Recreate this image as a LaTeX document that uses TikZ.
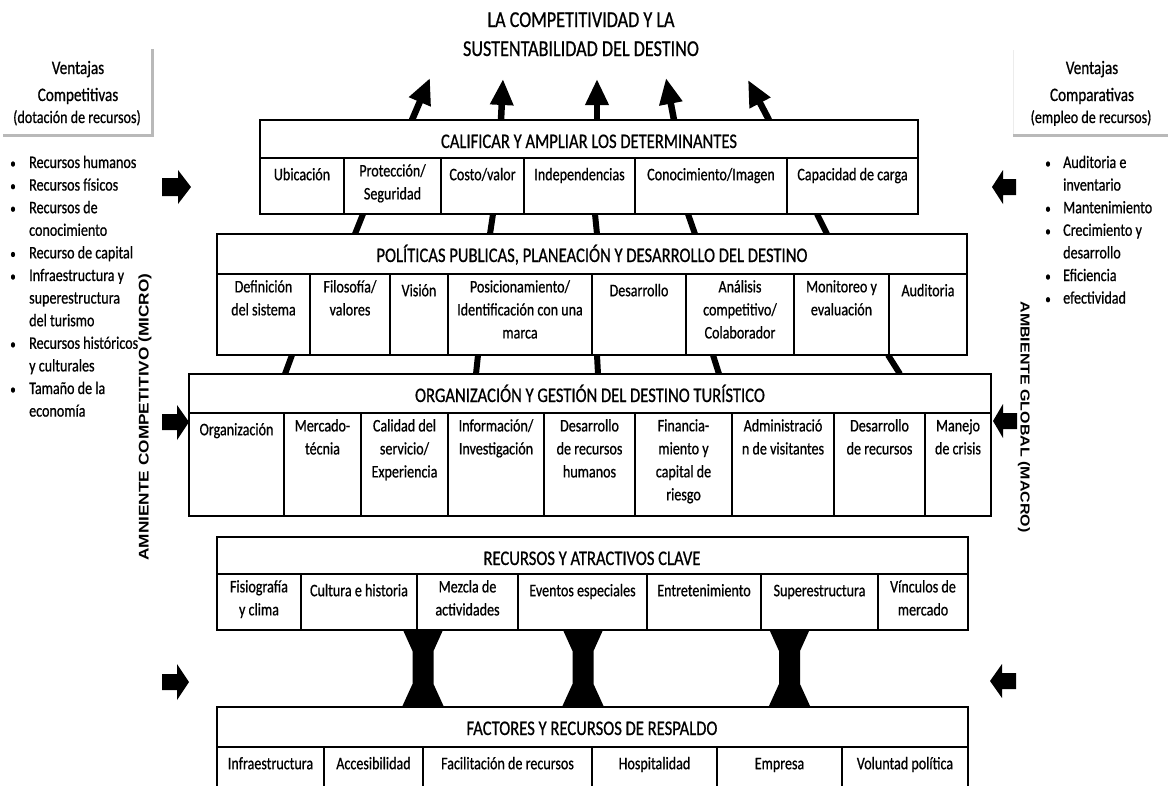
\documentclass[tikz,border=0pt]{standalone}
\usepackage{fontspec}
\usetikzlibrary{arrows.meta}
\newfontfamily\calf{Carlito}[FakeStretch=0.8,FakeBold=0.7]
\newfontfamily\ambf{Liberation Sans}[FakeStretch=1.23]
\newcommand\hourglass[1]{\fill ({#1-20},630) -- ({#1+20},630) -- ({#1+10.5},651) -- ({#1+10.5},684) -- ({#1+21},707) -- ({#1-21},707) -- ({#1-10.5},684) -- ({#1-10.5},651) -- cycle;}
\begin{document}
\begin{tikzpicture}[x=1pt,y=-1pt,
  box/.style={inner sep=0pt, outer sep=0pt, anchor=north west},
  rule/.style={line width=1.4pt},
  cell/.style={font=\calf\fontsize{17.6}{23}\selectfont, align=center, inner sep=0pt, anchor=north, execute at begin node={\rule{0pt}{16pt}}},
  hdr/.style={font=\calf\fontsize{20.75}{25}\selectfont, inner sep=0pt, anchor=base},
  ttl/.style={font=\calf\fontsize{22.7}{29}\selectfont, inner sep=0pt, anchor=base},
  phead/.style={font=\calf\fontsize{19}{23}\selectfont, inner sep=0pt, anchor=base},
  psub/.style={font=\calf\fontsize{17.6}{23}\selectfont, inner sep=0pt, anchor=base},
  bul/.style={font=\calf\fontsize{17.6}{23}\selectfont, inner sep=0pt, anchor=base west},
  dot/.style={font=\calf\fontsize{14}{23}\selectfont, inner sep=0pt, anchor=base},
  conn/.style={line width=6pt},
  uparrow/.style={line width=6.5pt, -{Triangle[width=22pt,length=26pt]}},
  amb/.style={font=\ambf\bfseries\fontsize{14}{16}\selectfont, inner sep=0pt},
  shadow/.style={gray!55, line width=3pt}
]
\useasboundingbox (0,0) rectangle (1168,785);
\clip (0,0) rectangle (1168,785);

% ---------- box frames (named) ----------
\node[box, minimum width=658pt, minimum height=94pt] (b1) at (260,120) {};
\node[box, minimum width=750pt, minimum height=121pt] (b2) at (217,234) {};
\node[box, minimum width=802pt, minimum height=142pt] (b3) at (189,374) {};
\node[box, minimum width=751pt, minimum height=93pt] (b4) at (217,537) {};
\node[box, minimum width=751pt, minimum height=100pt] (b5) at (217,707) {};

% ---------- connectors ----------
\coordinate (t1) at (430,78);
\coordinate (t2) at (503,79);
\coordinate (t3) at (597,79);
\coordinate (t4) at (666,78);
\coordinate (t5) at (748,80);
\draw[uparrow] (b1.north -| 412,0) -- (t1);
\draw[uparrow] (b1.north -| 501,0) -- (t2);
\draw[uparrow] (b1.north -| 597,0) -- (t3);
\draw[uparrow] (b1.north -| 674,0) -- (t4);
\draw[uparrow] (b1.north -| 769,0) -- (t5);

\draw[conn] (b1.south -| 363,0) -- (b2.north -| 355,0);
\draw[conn] (b1.south -| 493,0) -- (b2.north -| 490,0);
\draw[conn] (b1.south -| 595,0) -- (b2.north -| 597,0);
\draw[conn] (b1.south -| 688,0) -- (b2.north -| 695,0);
\draw[conn] (b1.south -| 817,0) -- (b2.north -| 827,0);

\draw[conn] (b2.south -| 292,0) -- (b3.north -| 285,0);
\draw[conn] (b2.south -| 478,0) -- (b3.north -| 476,0);
\draw[conn] (b2.south -| 597,0) -- (b3.north -| 598,0);
\draw[conn] (b2.south -| 713,0) -- (b3.north -| 719,0);
\draw[conn] (b2.south -| 888,0) -- (b3.north -| 900,0);

\hourglass{423}
\hourglass{583}
\hourglass{789.5}

% ---------- boxes ----------
\foreach \b in {b1,b2,b3,b4,b5} \filldraw[rule, fill=white] (\b.north west) rectangle (\b.south east);

% ---------- box 1 ----------
\draw[rule] (260,158) -- (918,158);
\foreach \x in {344,441,524,635,787} \draw[rule] (\x,158) -- (\x,214);
\node[hdr] (h1) at (589,148) {CALIFICAR Y AMPLIAR LOS DETERMINANTES};
\node[cell] (c11) at (302,164) {Ubicación};
\node[cell] (c12) at (392.5,164) {Protección/\\Seguridad};
\node[cell] (c13) at (482.5,164) {Costo/valor};
\node[cell] (c14) at (579.5,164) {Independencias};
\node[cell] (c15) at (711,164) {Conocimiento/Imagen};
\node[cell] (c16) at (852.5,164) {Capacidad de carga};

% ---------- box 2 ----------
\draw[rule] (217,274) -- (967,274);
\foreach \x in {310,390,448,592,686,794,889} \draw[rule] (\x,274) -- (\x,355);
\node[hdr] (h2) at (592,262) {POLÍTICAS PUBLICAS, PLANEACIÓN Y DESARROLLO DEL DESTINO};
\node[cell] (c21) at (263.5,280) {Definición\\del sistema};
\node[cell] (c22) at (350,280) {Filosofía/\\valores};
\node[cell] (c23) at (419,280) {Visión};
\node[cell] (c24) at (520,280) {Posicionamiento/\\Identificación con una\\marca};
\node[cell] (c25) at (639,280) {Desarrollo};
\node[cell] (c26) at (740,280) {Análisis\\competitivo/\\Colaborador};
\node[cell] (c27) at (841.5,280) {Monitoreo y\\evaluación};
\node[cell] (c28) at (928,280) {Auditoria};

% ---------- box 3 ----------
\draw[rule] (189,413) -- (991,413);
\foreach \x in {284,361,448,544,635,732,834,925} \draw[rule] (\x,413) -- (\x,516);
\node[hdr] (h3) at (590,402) {ORGANIZACIÓN Y GESTIÓN DEL DESTINO TURÍSTICO};
\node[cell] (c31) at (236.5,419) {Organización};
\node[cell] (c32) at (322.5,419) {Mercado-\\técnia};
\node[cell] (c33) at (404.5,419) {Calidad del\\servicio/\\Experiencia};
\node[cell] (c34) at (496,419) {Información/\\Investigación};
\node[cell] (c35) at (589.5,419) {Desarrollo\\de recursos\\humanos};
\node[cell] (c36) at (683.5,419) {Financia-\\miento y\\capital de\\riesgo};
\node[cell] (c37) at (783,419) {Administració\\n de visitantes};
\node[cell] (c38) at (879.5,419) {Desarrollo\\de recursos};
\node[cell] (c39) at (958,419) {Manejo\\de crisis};

% ---------- box 4 ----------
\draw[rule] (217,574) -- (968,574);
\foreach \x in {301,417,518,647,761,878} \draw[rule] (\x,574) -- (\x,630);
\node[hdr] (h4) at (592,565) {RECURSOS Y ATRACTIVOS CLAVE};
\node[cell] (c41) at (259,580) {Fisiografía\\y clima};
\node[cell] (c42) at (359,580) {Cultura e historia};
\node[cell] (c43) at (467.5,580) {Mezcla de\\actividades};
\node[cell] (c44) at (582.5,580) {Eventos especiales};
\node[cell] (c45) at (704,580) {Entretenimiento};
\node[cell] (c46) at (819.5,580) {Superestructura};
\node[cell] (c47) at (923,580) {Vínculos de\\mercado};

% ---------- box 5 ----------
\draw[rule] (217,747) -- (968,747);
\foreach \x in {324,423,592,717,842} \draw[rule] (\x,747) -- (\x,800);
\node[hdr] (h5) at (592,735) {FACTORES Y RECURSOS DE RESPALDO};
\node[cell] (c51) at (270.5,753) {Infraestructura};
\node[cell] (c52) at (373.5,753) {Accesibilidad};
\node[cell] (c53) at (507.5,753) {Facilitación de recursos};
\node[cell] (c54) at (654.5,753) {Hospitalidad};
\node[cell] (c55) at (779.5,753) {Empresa};
\node[cell] (c56) at (905,753) {Voluntad política};

% ---------- title ----------
\node[ttl] (tl1) at (581,27) {LA COMPETITIVIDAD Y LA};
\node[ttl] (tl2) at (581,56) {SUSTENTABILIDAD DEL DESTINO};

% ---------- left panel ----------
\draw[shadow] (3,135) -- (152,135) -- (152,49);
\node[phead] (lp1) at (78,74) {Ventajas};
\node[phead] (lp2) at (78,101) {Competitivas};
\node[psub] (lp3) at (77,123) {(dotación de recursos)};
\foreach \y/\t/\b in {163/Recursos humanos/1, 185.6/Recursos físicos/1, 208.2/Recursos de/1, 230.8/conocimiento/0, 253.4/Recurso de capital/1, 276/Infraestructura y/1, 298.6/superestructura/0, 321.2/del turismo/0, 343.8/Recursos históricos/1, 366.4/y culturales/0, 389/Tamaño de la/1, 411.6/economía/0} {
  \node[bul] at (29,\y+5) {\t};
  \ifnum\b=1 \node[dot] at (13,\y+5) {•}; \fi
}

% ---------- right panel ----------
\draw[gray!15, line width=1pt] (1013,50) -- (1013,135);
\draw[shadow] (1013,135) -- (1168,135);
\node[phead] (rp1) at (1092,74) {Ventajas};
\node[phead] (rp2) at (1092,101) {Comparativas};
\node[psub] (rp3) at (1091,123) {(empleo de recursos)};
\foreach \y/\t/\b in {163/Auditoria e/1, 185.6/inventario/0, 208.2/Mantenimiento/1, 230.8/Crecimiento y/1, 253.4/desarrollo/0, 276/Eficiencia/1, 298.6/efectividad/1} {
  \node[bul] at (1063,\y+5) {\t};
  \ifnum\b=1 \node[dot] at (1048,\y+5) {•}; \fi
}

% ---------- side block arrows ----------
\fill (162,178) -- (178,178) -- (178,170) -- (191,187) -- (178,204) -- (178,196) -- (162,196) -- cycle;
\fill (162,414) -- (177,414) -- (177,405) -- (189,422) -- (177,440) -- (177,430) -- (162,430) -- cycle;
\fill (162,674) -- (177,674) -- (177,664) -- (189,682) -- (177,700) -- (177,690) -- (162,690) -- cycle;
\fill (1016,179) -- (1003,179) -- (1003,170) -- (992,187) -- (1003,204) -- (1003,195) -- (1016,195) -- cycle;
\fill (1017,413) -- (1003,413) -- (1003,404) -- (993,421) -- (1003,438) -- (1003,429) -- (1017,429) -- cycle;
\fill (1016,673) -- (1002,673) -- (1002,664) -- (990,681) -- (1002,698) -- (1002,689) -- (1016,689) -- cycle;

% ---------- vertical labels ----------
\node[amb, rotate=90] (amL) at (145,417) {AMNIENTE COMPETITIVO (MICRO)};
\node[amb, rotate=-90, font=\ambf\bfseries\fontsize{13}{15}\selectfont] (amR) at (1024,417) {AMBIENTE GLOBAL (MACRO)};
\end{tikzpicture}
\end{document}
